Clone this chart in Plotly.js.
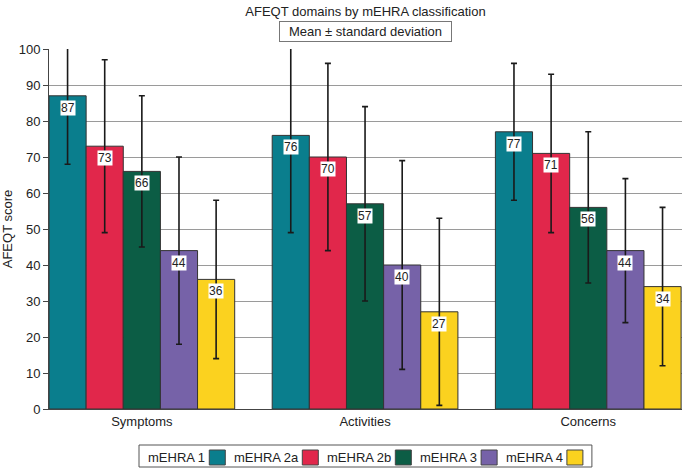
<!DOCTYPE html>
<html>
<head>
<meta charset="utf-8">
<script src="https://cdn.plot.ly/plotly-3.0.1.min.js"></script>
<style>html,body{margin:0;padding:0;background:#fff;}#chart{width:682px;height:468px;}</style>
</head>
<body>
<div id="chart"></div>
<script>
// ---- data ----
const categories = ['Symptoms', 'Activities', 'Concerns'];
const seriesNames = ['mEHRA 1', 'mEHRA 2a', 'mEHRA 2b', 'mEHRA 3', 'mEHRA 4'];
const mehra1  = [87, 76, 77];
const mehra2a = [73, 70, 71];
const mehra2b = [66, 57, 56];
const mehra3  = [44, 40, 44];
const mehra4  = [36, 27, 34];
const sd1  = [19, 27, 19];
const sd2a = [24, 26, 22];
const sd2b = [21, 27, 21];
const sd3  = [26, 29, 20];
const sd4  = [22, 26, 22];
const yTicks = [0, 10, 20, 30, 40, 50, 60, 70, 80, 90, 100];

// ---- styles ----
const means = [mehra1, mehra2a, mehra2b, mehra3, mehra4];
const sds = [sd1, sd2a, sd2b, sd3, sd4];
const colors = ['#0a7e8d', '#e1274b', '#0c5d45', '#7662a8', '#fbd21f'];
const FONT = '"Liberation Sans", Arial, Helvetica, sans-serif';
const bargap = 0.168;
const W = 682, H = 468;
const M = {l: 49, r: 0, t: 49, b: 59};
const pw = W - M.l - M.r, ph = H - M.t - M.b;
const px2x = px => (px - M.l) / pw;
const py2y = py => (H - M.b - py) / ph;

const traces = means.map((vals, s) => ({
  type: 'bar',
  name: seriesNames[s],
  x: categories,
  y: vals,
  marker: {color: colors[s], line: {color: '#333', width: 1}},
  error_y: {type: 'data', array: sds[s], visible: true, color: '#1a1a1a', thickness: 1.6, width: 3},
  cliponaxis: true,
  hoverinfo: 'skip'
}));

const annotations = [];
const bw = (1 - bargap) / seriesNames.length;
means.forEach((vals, s) => {
  vals.forEach((v, c) => {
    annotations.push({
      xref: 'x', yref: 'y',
      x: c + (s - (seriesNames.length - 1) / 2) * bw,
      y: v, yanchor: 'top', xanchor: 'center', yshift: -4,
      text: String(v), showarrow: false,
      bgcolor: '#ffffff', borderpad: 0,
      font: {family: FONT, size: 12, color: '#222'}
    });
  });
});

// subtitle box
annotations.push({
  xref: 'paper', yref: 'paper', x: 0.5, y: py2y(32), yanchor: 'middle',
  text: 'Mean ± standard deviation', showarrow: false,
  width: 169, height: 17, borderpad: 1,
  bordercolor: '#777', borderwidth: 1, bgcolor: '#fff',
  font: {family: FONT, size: 13, color: '#222'}
});

// custom legend: label followed by swatch
const shapes = [];
const ctx = document.createElement('canvas').getContext('2d');
ctx.font = '13px ' + FONT;
let cx = 147;
const legY0 = 450, legY1 = 465;
seriesNames.forEach((nm, s) => {
  const tw = ctx.measureText(nm).width;
  annotations.push({
    xref: 'paper', yref: 'paper', x: px2x(cx), y: py2y(457.5),
    xanchor: 'left', yanchor: 'middle', text: nm, showarrow: false, borderpad: 0,
    font: {family: FONT, size: 13, color: '#222'}
  });
  const sx = cx + tw + 4.5;
  shapes.push({type: 'rect', xref: 'paper', yref: 'paper',
    x0: px2x(sx), x1: px2x(sx + 16), y0: py2y(legY1), y1: py2y(legY0),
    fillcolor: colors[s], line: {color: '#444', width: 1}});
  cx = sx + 16 + 7.5;
});
shapes.push({type: 'rect', xref: 'paper', yref: 'paper', layer: 'below',
  x0: px2x(139), x1: px2x(cx + 1.5), y0: py2y(467), y1: py2y(445),
  fillcolor: 'rgba(0,0,0,0)', line: {color: '#555', width: 1}});

const layout = {
  width: W, height: H,
  margin: M,
  paper_bgcolor: '#fff', plot_bgcolor: '#fff',
  font: {family: FONT, size: 13, color: '#222'},
  title: {text: 'AFEQT domains by mEHRA classification', xref: 'paper', x: 0.5,
    yref: 'container', y: 1 - 11 / H, yanchor: 'middle',
    font: {family: FONT, size: 13, color: '#222'}},
  barmode: 'group',
  bargap: bargap, bargroupgap: 0,
  showlegend: false,
  xaxis: {type: 'category', range: [-0.416, 2.42], showline: true, linecolor: '#444', linewidth: 1,
    ticks: '', showgrid: false, tickfont: {family: FONT, size: 13, color: '#222'}, fixedrange: true},
  yaxis: {range: [0, 100], tickvals: yTicks, ticktext: yTicks.map(String),
    ticks: 'outside', ticklen: 5, tickcolor: '#444', showline: true, linecolor: '#444', linewidth: 1,
    showgrid: true, gridcolor: '#9a9a9a', gridwidth: 1, zeroline: false,
    tickfont: {family: FONT, size: 13, color: '#222'},
    title: {text: 'AFEQT score', font: {family: FONT, size: 13, color: '#222'}, standoff: 10}},
  annotations: annotations,
  shapes: shapes
};

Plotly.newPlot('chart', traces, layout, {displayModeBar: false, staticPlot: true});
</script>
</body>
</html>
